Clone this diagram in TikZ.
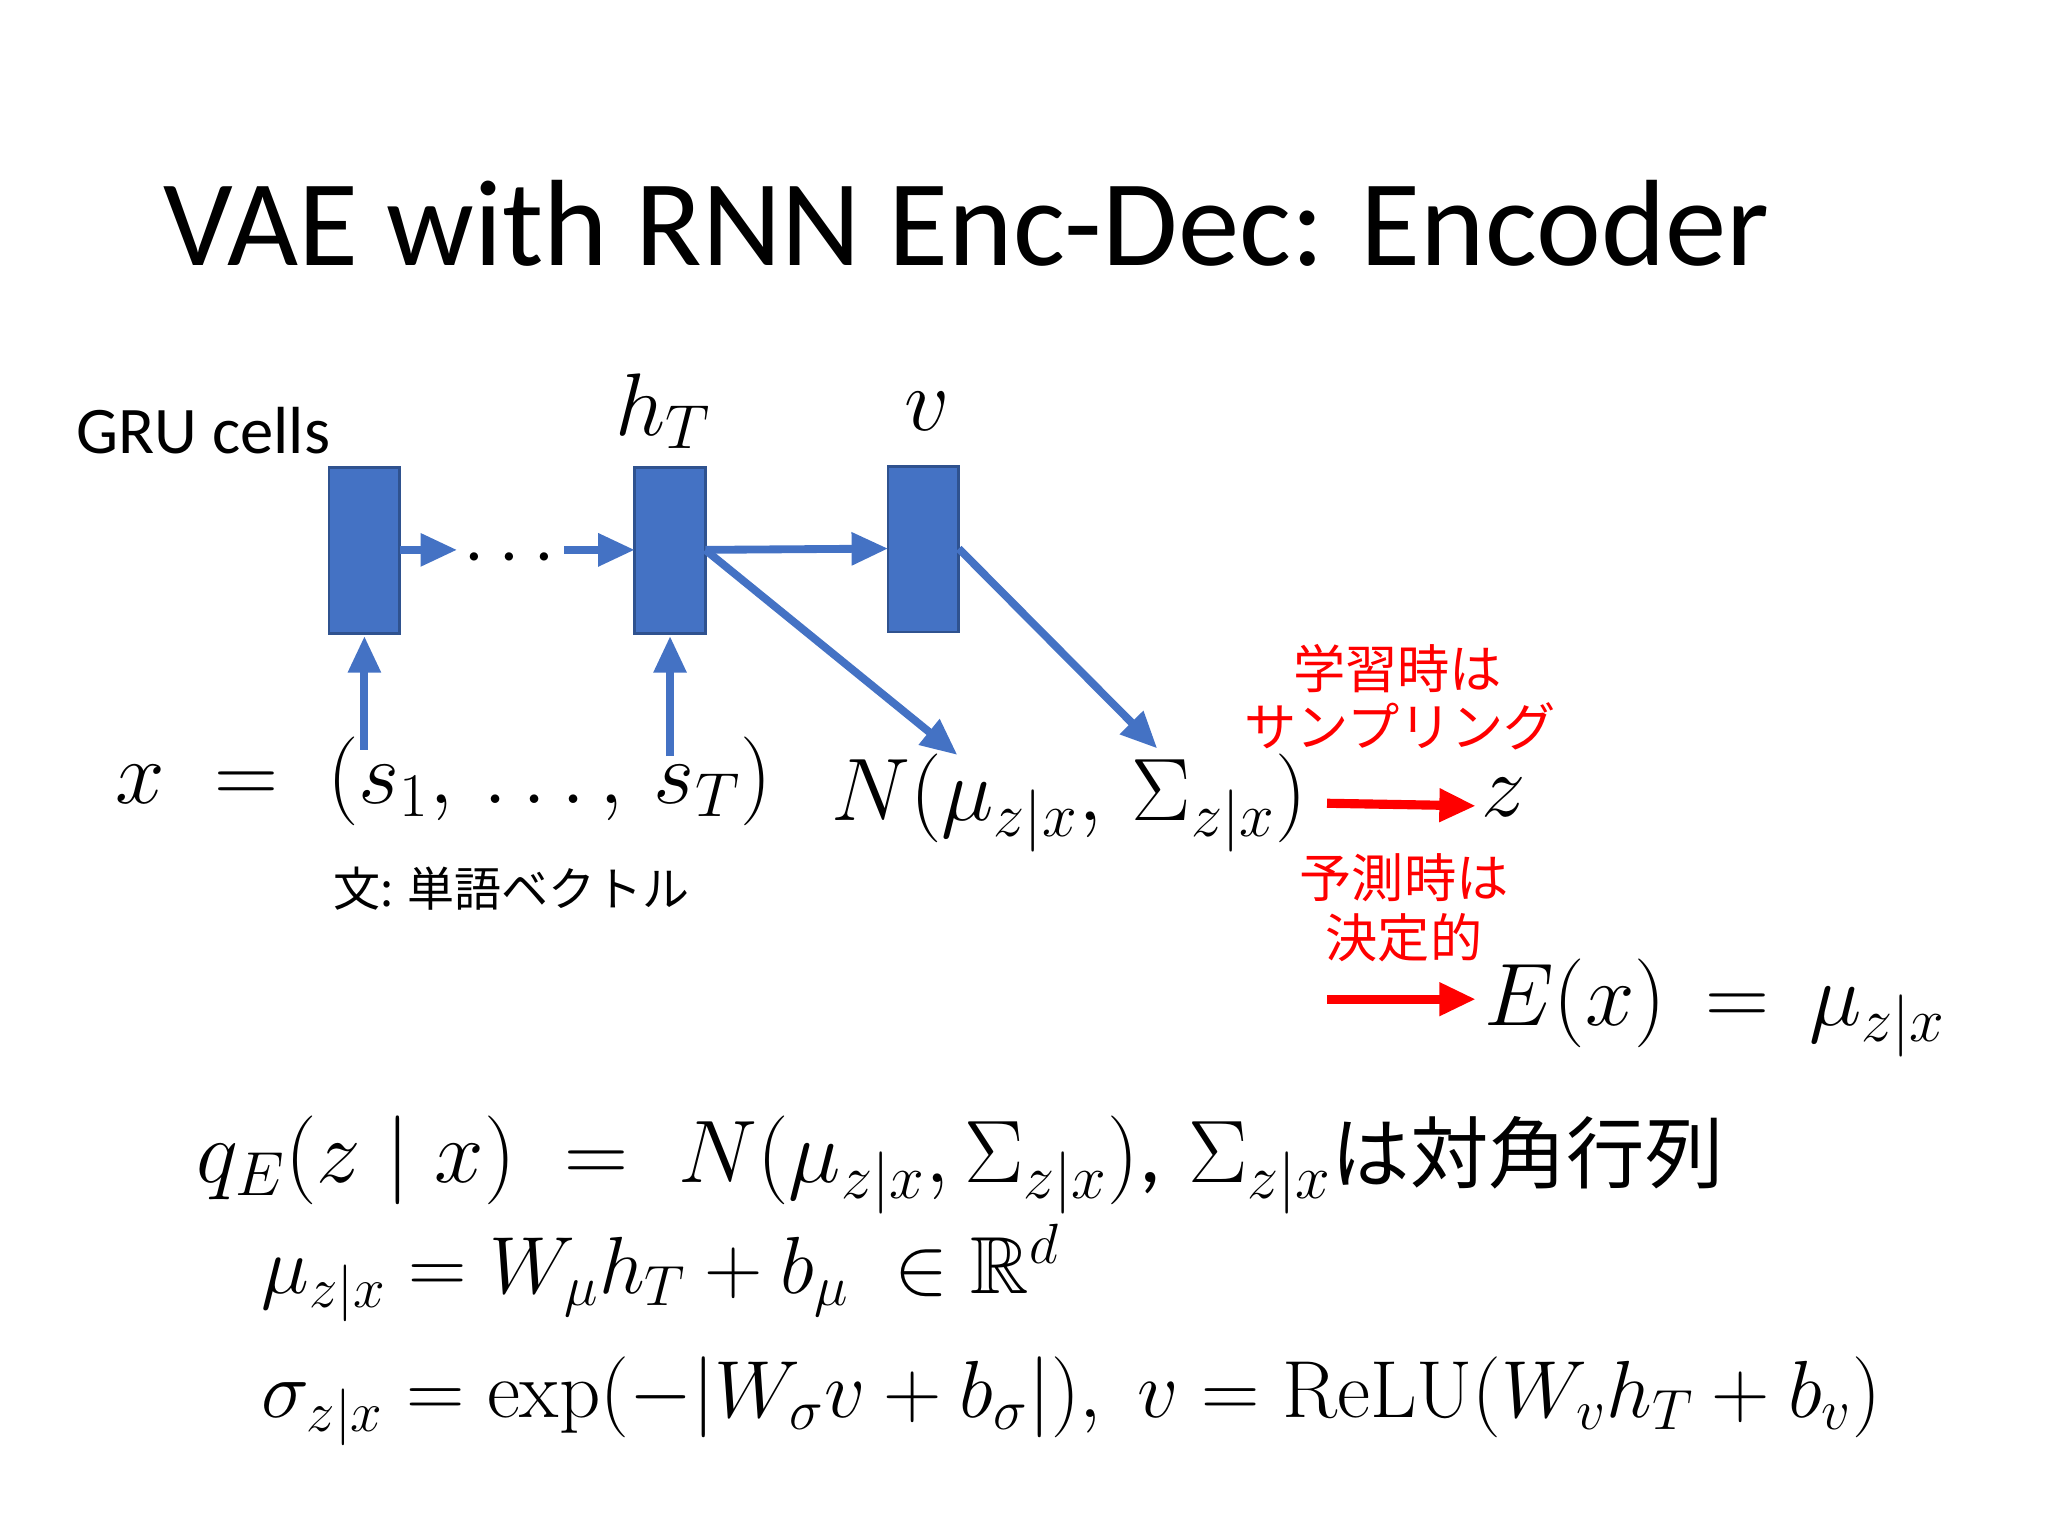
\documentclass[tikz,border=0pt]{standalone}
\usepackage{fix-cm}
\usepackage{fontspec}
\usepackage{amssymb}
\newfontfamily\calfont{Carlito}
\newfontfamily\cjk{Noto Sans CJK JP}
\usetikzlibrary{arrows.meta}
\definecolor{cellblue}{HTML}{4472C4}
\definecolor{celledge}{HTML}{2F528F}
\tikzset{
 cell/.style={draw=celledge,fill=cellblue,line width=1pt},
 barr/.style={draw=cellblue,line width=3pt,-{Triangle[length=14pt,width=12pt]}},
 rarr/.style={draw=red,line width=3.5pt,-{Triangle[length=14pt,width=12pt]}},
 red/.style={text=red,font=\cjk\fontsize{20}{26}\selectfont,align=center},
 m/.style={inner sep=0pt,font=\fontsize{34}{40}\selectfont},
}
\begin{document}
\begin{tikzpicture}[x=0.5pt,y=-0.5pt]
\useasboundingbox (0,0) rectangle (1568,1176);
\node[anchor=base west,inner sep=0pt,font=\calfont\fontsize{47}{52}\selectfont] (title) at (125,203) {VAE with RNN Enc-Dec: Encoder};
\node[anchor=base west,inner sep=0pt,font=\calfont\fontsize{25.5}{30}\selectfont] (gru) at (58,347) {GRU cells};
\path[cell] (252,358) rectangle (306,485);
\path[cell] (486,358) rectangle (540,485);
\path[cell] (680,357) rectangle (734,484);
\coordinate (c1r) at (306,421); \coordinate (d1) at (350,421);
\coordinate (d2) at (432,421); \coordinate (c2l) at (486,421);
\coordinate (c2r) at (540,421); \coordinate (c3l) at (680,420);
\coordinate (c3r) at (734,420);
\coordinate (c1d) at (279,487); \coordinate (c2d) at (513,487);
\coordinate (s1) at (279,574); \coordinate (sT) at (513,579);
\coordinate (n1) at (733,578); \coordinate (n2) at (886,573);
\coordinate (r1s) at (1016,615); \coordinate (r1e) at (1130,617);
\coordinate (r2s) at (1016,765); \coordinate (r2e) at (1130,765);
\node[m,font=\fontsize{30}{30}\selectfont] (dots) at (390,428) {$\cdots$};
\draw[barr] (c1r) -- (d1);
\draw[barr] (d2) -- (c2l);
\draw[barr] (c2r) -- (c3l);
\draw[barr] (c2r) -- (n1);
\draw[barr] (c3r) -- (n2);
\draw[barr] (s1) -- (c1d);
\draw[barr] (sT) -- (c2d);
\node[m] (hT) at (508,315) {$h_T$};
\node[m] (v) at (710,315) {$v$};
\node[m,anchor=base west] (x) at (88,615) {$x\;=\;(s_1,\,\ldots,\,s_T)$};
\node[m,anchor=base west] (N) at (636,628) {$N(\mu_{z|x},\,\Sigma_{z|x})$};
\node[m,anchor=base west] (z) at (1134,625) {$z$};
\draw[rarr] (r1s) -- (r1e);
\node[red] (t1) at (1070,512) {学習時は};
\node[red] (t2) at (1072,556) {サンプリング};
\node[red] (t3) at (1075,672) {予測時は};
\node[red] (t4) at (1075,718) {決定的};
\node[m,anchor=base west] (E) at (1136,785) {$E(x)\,=\,\mu_{z|x}$};
\draw[rarr] (r2s) -- (r2e);
\node[anchor=base west,inner sep=0pt,font=\cjk\fontsize{18}{22}\selectfont] (bun) at (255,694) {文: 単語ベクトル};
\node[m,anchor=base west] (q) at (150,905) {$q_E(z\mid x)\;=\;N(\mu_{z|x},\Sigma_{z|x})${\calfont ,} $\Sigma_{z|x}$\cjk\fontsize{30}{34}\selectfont は対角行列};
\node[m,anchor=base west,font=\fontsize{31}{36}\selectfont] (mu) at (200,990) {$\mu_{z|x}=W_\mu h_T+b_\mu\;\in\mathbb{R}^d$};
\node[m,anchor=base west,font=\fontsize{31}{36}\selectfont] (sig) at (200,1085) {$\sigma_{z|x}=\exp(-|W_\sigma v+b_\sigma|),\;v=\mathrm{ReLU}(W_v h_T+b_v)$};
\end{tikzpicture}
\end{document}
